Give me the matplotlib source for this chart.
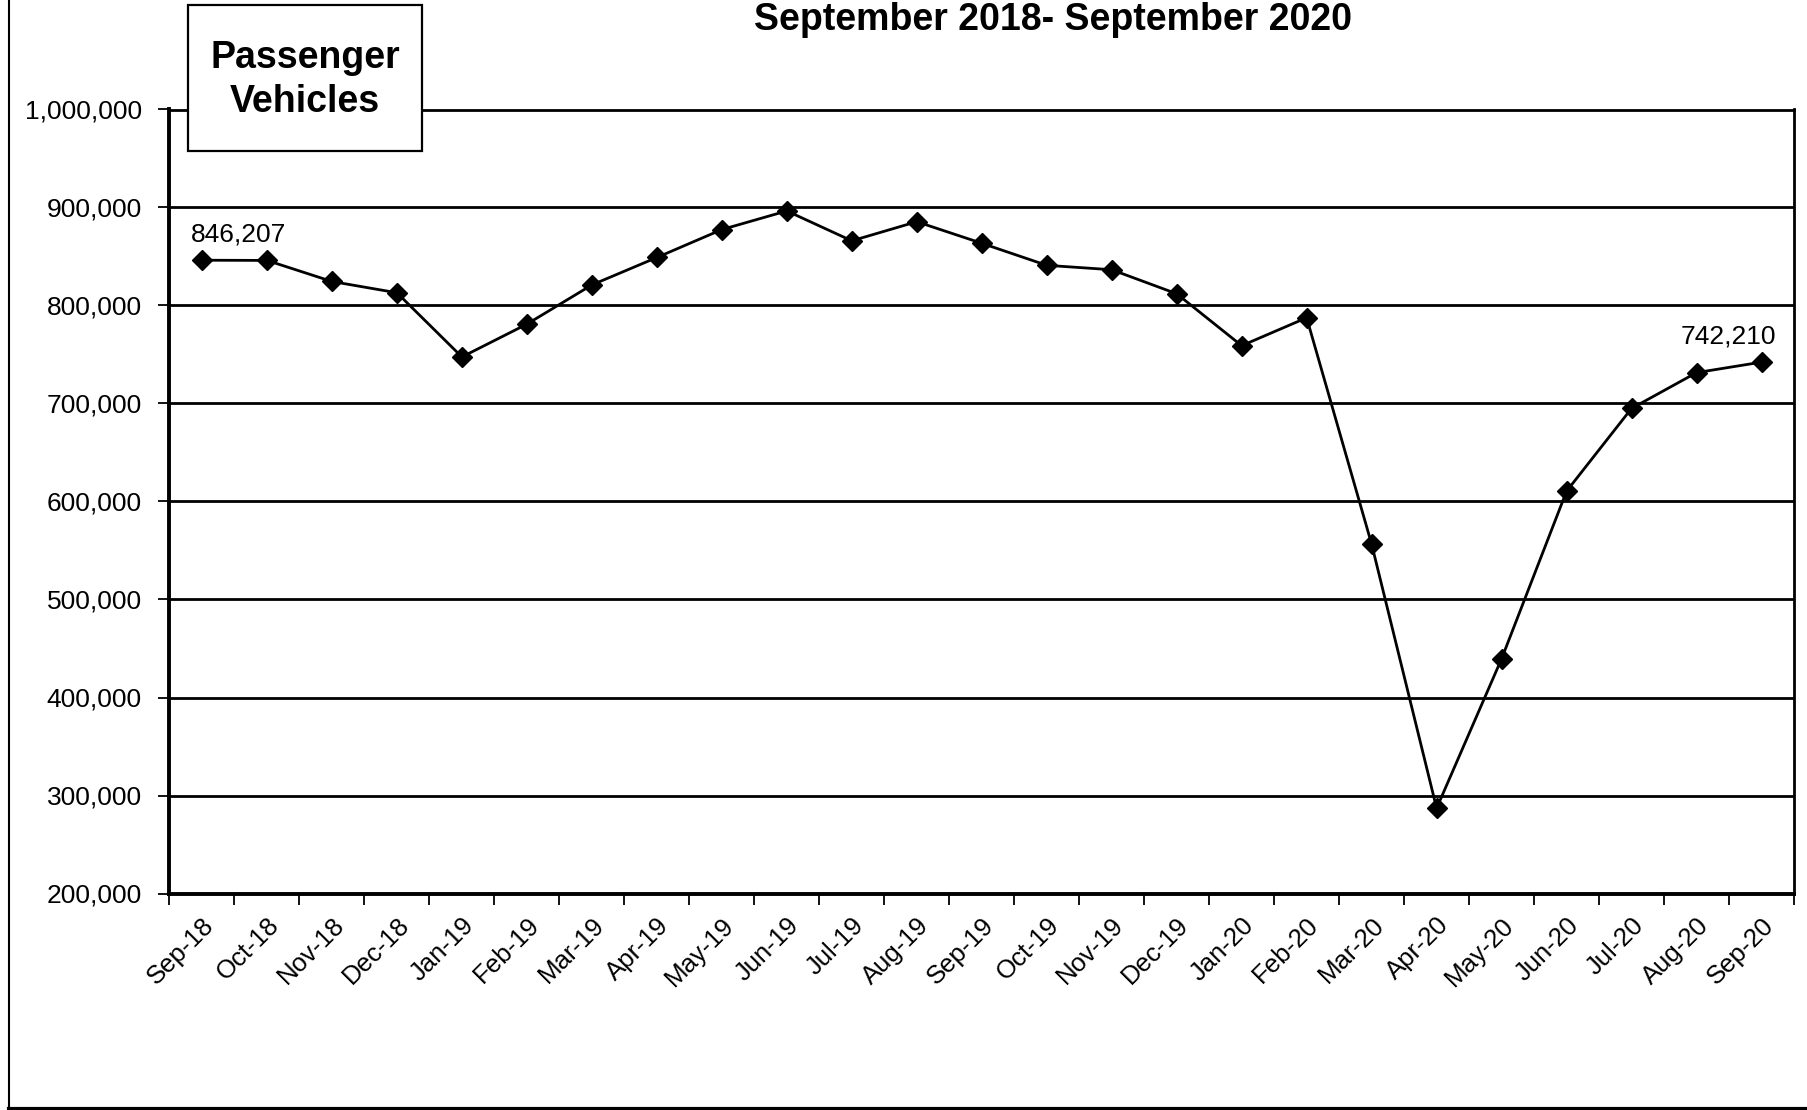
import matplotlib
matplotlib.use('Agg')
import matplotlib.pyplot as plt
from matplotlib.lines import Line2D
from matplotlib.patches import Rectangle
from matplotlib.ticker import FuncFormatter, FixedLocator

plt.rcParams['font.family'] = ['Liberation Sans', 'DejaVu Sans']

months = ['Sep-18', 'Oct-18', 'Nov-18', 'Dec-18', 'Jan-19', 'Feb-19', 'Mar-19',
          'Apr-19', 'May-19', 'Jun-19', 'Jul-19', 'Aug-19', 'Sep-19', 'Oct-19',
          'Nov-19', 'Dec-19', 'Jan-20', 'Feb-20', 'Mar-20', 'Apr-20', 'May-20',
          'Jun-20', 'Jul-20', 'Aug-20', 'Sep-20']
vehicles = [846207, 846000, 824500, 813000, 747500, 781000, 821000,
            849000, 877500, 896500, 866000, 885500, 863500, 841000,
            836500, 812000, 759000, 787500, 556500, 287000, 439500,
            610500, 695000, 731500, 742210]
y_ticks = [200000, 300000, 400000, 500000, 600000, 700000, 800000, 900000, 1000000]

fig = plt.figure(figsize=(18.08, 11.10), dpi=100)
ax = fig.add_axes([169.5 / 1808, 1 - 893.5 / 1110, (1794 - 169.5) / 1808, (893.5 - 109.5) / 1110])

x = list(range(len(months)))
ax.plot(x, vehicles, color='black', lw=2, marker='D', markersize=10.5, zorder=3)

ax.set_xlim(-0.5, len(months) - 0.5)
ax.set_ylim(y_ticks[0], y_ticks[-1])
ax.set_yticks(y_ticks)
ax.yaxis.set_major_formatter(FuncFormatter(lambda v, p: f'{int(v):,}'))
ax.grid(axis='y', color='black', lw=2)
ax.set_axisbelow(True)

ax.set_xticks(x)
ax.set_xticklabels(months, rotation=45, ha='right', rotation_mode='anchor')
ax.xaxis.set_minor_locator(FixedLocator([i - 0.5 for i in range(len(months) + 1)]))
ax.tick_params(axis='x', which='major', length=0, pad=14, labelsize=18.5)
ax.tick_params(axis='x', which='minor', length=8, width=1.3, direction='out')
ax.tick_params(axis='y', length=8, width=1.3, labelsize=19, pad=12)

for side in ['left', 'bottom']:
    ax.spines[side].set_linewidth(2.8)
for side in ['right', 'top']:
    ax.spines[side].set_linewidth(2)

# first and last values labelled
ax.annotate(f'{vehicles[0]:,}', (x[0], vehicles[0]), xytext=(26, 10),
            textcoords='offset points', ha='center', va='bottom', fontsize=19)
ax.annotate(f'{vehicles[-1]:,}', (x[-1], vehicles[-1]), xytext=(-24, 10),
            textcoords='offset points', ha='center', va='bottom', fontsize=19)

fig.text(913 * 1.153 / 1808, 1 - 20 / 1110, 'September 2018- September 2020',
         ha='center', va='center', fontsize=27, fontweight='bold')

# label box in the upper left corner
fig.patches.append(Rectangle((188 / 1808, 1 - 151 / 1110), (422 - 188) / 1808, (151 - 5) / 1110,
                             transform=fig.transFigure, fc='white', ec='black', lw=1.6, zorder=4))
fig.text(305 / 1808, 1 - 80 / 1110, 'Passenger\nVehicles', ha='center', va='center',
         fontsize=27, fontweight='bold', linespacing=1.3, zorder=5)

# outer border of the chart area
fig.add_artist(Line2D([9 / 1808, 9 / 1808], [0, 1], color='black', lw=1.5))
fig.add_artist(Line2D([9 / 1808, 1], [1.5 / 1110, 1.5 / 1110], color='black', lw=3))

fig.savefig('out.png', dpi=100, facecolor='white')
